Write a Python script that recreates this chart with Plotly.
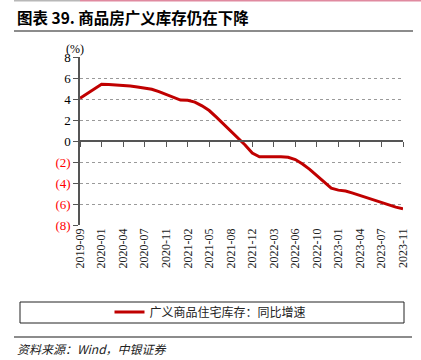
import plotly.graph_objects as go

# Monthly categories (some months absent in the source series)
months = [
    "2019-09", "2019-10", "2019-11", "2020-01", "2020-02", "2020-03", "2020-04",
    "2020-05", "2020-06", "2020-07", "2020-08", "2020-10", "2020-11", "2020-12",
    "2021-01", "2021-02", "2021-03", "2021-04", "2021-05", "2021-06", "2021-07",
    "2021-08", "2021-09", "2021-11", "2021-12", "2022-01", "2022-02", "2022-03",
    "2022-04", "2022-05", "2022-06", "2022-07", "2022-09", "2022-10", "2022-11",
    "2022-12", "2023-01", "2023-02", "2023-03", "2023-04", "2023-05", "2023-06",
    "2023-07", "2023-08", "2023-10", "2023-11",
]
inventory_yoy = [
    4.07, 4.5, 4.96, 5.4, 5.37, 5.35, 5.3,
    5.24, 5.15, 5.05, 4.93, 4.7, 4.45, 4.17,
    3.9, 3.88, 3.7, 3.35, 2.9, 2.27, 1.6,
    0.95, 0.32, -0.38, -1.15, -1.5, -1.5, -1.48,
    -1.5, -1.55, -1.77, -2.2, -2.7, -3.3, -3.9,
    -4.5, -4.68, -4.77, -4.96, -5.18, -5.43, -5.68,
    -5.9, -6.13, -6.3, -6.45,
]
series_name = "广义商品住宅库存：同比增速"
y_ticks = [8, 6, 4, 2, 0, -2, -4, -6, -8]
y_ticktext = ["8", "6", "4", "2", "0", "(2)", "(4)", "(6)", "(8)"]
title_text = "图表 39. 商品房广义库存仍在下降"
source_text = "资料来源：Wind，中银证券"

W, H = 421, 360
tick_cats = months[::3]
red = "#c00000"

def px_x(px):
    return px / W

def px_y(py):
    return 1 - py / H

fig = go.Figure()
fig.add_trace(go.Scatter(
    x=months, y=inventory_yoy, mode="lines", name=series_name,
    line=dict(color=red, width=3), xaxis="x", yaxis="y",
))
# invisible helper trace for the zero-line axis
fig.add_trace(go.Scatter(
    x=list(range(len(months))), y=[0] * len(months), mode="lines",
    line=dict(width=0, color="rgba(0,0,0,0)"), showlegend=False,
    hoverinfo="skip", xaxis="x2", yaxis="y",
))

serif = "Liberation Serif, Times New Roman, serif"
tick_colors = ["black"] * 5 + ["red"] * 4

fig.update_layout(
    width=W, height=H,
    margin=dict(l=0, r=0, t=0, b=0, autoexpand=False),
    paper_bgcolor="white", plot_bgcolor="white",
    showlegend=True,
    legend=dict(
        orientation="h", x=0.5, xanchor="center",
        y=px_y(312), yanchor="middle",
        font=dict(family="Noto Sans CJK SC", size=12, color="#222"),
        bgcolor="rgba(0,0,0,0)", itemwidth=30,
    ),
    xaxis=dict(
        type="category", categoryorder="array", categoryarray=months,
        domain=[px_x(80), px_x(403)],
        range=[0, len(months) - 1], automargin=False,
        tickvals=tick_cats, ticktext=tick_cats, tickangle=-90,
        tickfont=dict(family=serif, size=12, color="#222"),
        showgrid=False, showline=False, ticks="", zeroline=False,
    ),
    xaxis2=dict(
        overlaying="x", anchor="free", position=px_y(141), automargin=False,
        range=[0, len(months) - 1],
        tickvals=list(range(0, len(months), 3)),
        showticklabels=False, ticks="outside", ticklen=5, tickcolor="#555",
        showline=True, linecolor="#555", linewidth=1.5, showgrid=False,
        zeroline=False,
    ),
    yaxis=dict(
        range=[-8, 8], tickvals=y_ticks, automargin=False,
        domain=[px_y(225), px_y(57)],
        ticktext=[f"<span style='color:{c}'>{t}</span>" for t, c in zip(y_ticktext, tick_colors)],
        tickfont=dict(family=serif, size=13, color="black"),
        showgrid=True, gridcolor="#9a9a9a", griddash="dot", gridwidth=1,
        showline=True, linecolor="#555", linewidth=1.5,
        ticks="outside", ticklen=5, tickcolor="#555",
        zeroline=False,
    ),
)

shapes = [
    dict(type="rect", xref="paper", yref="paper", x0=px_x(14), x1=px_x(80), y0=px_y(0), y1=px_y(1.5),
         line=dict(width=0), fillcolor="#b8b8b8"),
    dict(type="rect", xref="paper", yref="paper", x0=px_x(80), x1=px_x(421), y0=px_y(0), y1=px_y(1.5),
         line=dict(width=0), fillcolor="#e08aa0"),
    dict(type="rect", xref="paper", yref="paper", x0=px_x(14), x1=px_x(413), y0=px_y(30), y1=px_y(32),
         line=dict(width=0), fillcolor="#8c8c8c"),
    dict(type="rect", xref="paper", yref="paper", x0=px_x(20), x1=px_x(404), y0=px_y(302), y1=px_y(323),
         line=dict(color="#222", width=1)),
    dict(type="line", xref="paper", yref="paper", x0=px_x(14), x1=px_x(412), y0=px_y(337), y1=px_y(337),
         line=dict(color="#666", width=1.5)),
]
fig.update_layout(shapes=shapes)

fig.add_annotation(text=f"<b>{title_text}</b>", xref="paper", yref="paper",
                   x=px_x(15), y=px_y(17), xanchor="left", yanchor="middle", showarrow=False,
                   font=dict(family="Noto Sans CJK SC", size=15.5, color="black"))
fig.add_annotation(text="(%)", xref="paper", yref="paper",
                   x=px_x(64), y=px_y(49), xanchor="left", yanchor="middle", showarrow=False,
                   font=dict(family=serif, size=12, color="black"))
fig.add_annotation(text=f"<i>{source_text}</i>", xref="paper", yref="paper",
                   x=px_x(15), y=px_y(348), xanchor="left", yanchor="middle", showarrow=False,
                   font=dict(family="Noto Sans CJK SC", size=12, color="#222"))

fig.write_html("out.html", config={"displayModeBar": False},
               post_script="document.body.style.margin='0';document.body.style.overflow='hidden';")
